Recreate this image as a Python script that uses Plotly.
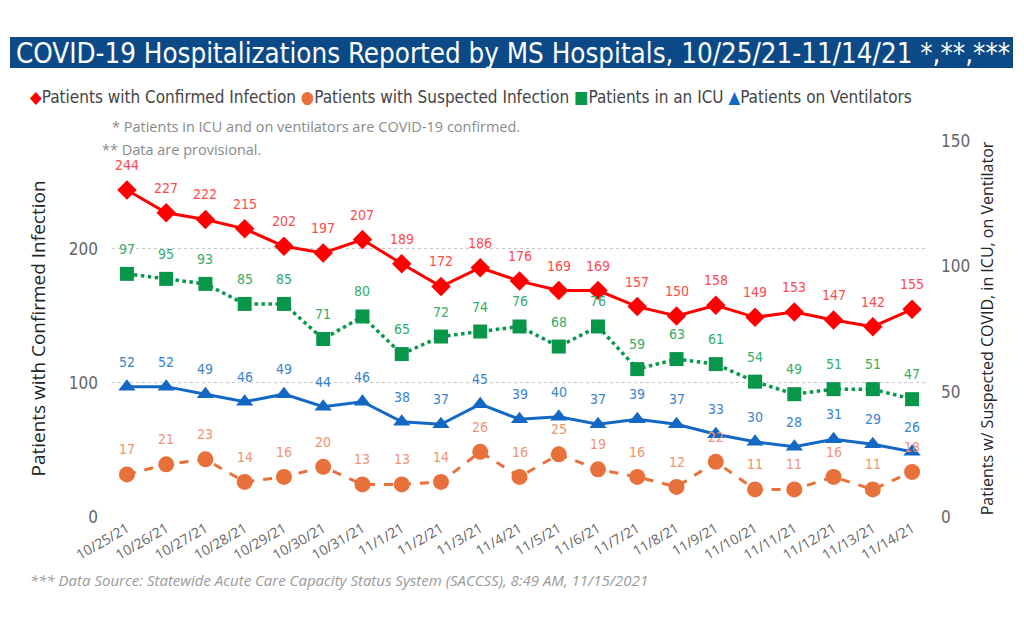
import plotly.graph_objects as go

dates = ["10/25/21", "10/26/21", "10/27/21", "10/28/21", "10/29/21", "10/30/21", "10/31/21",
         "11/1/21", "11/2/21", "11/3/21", "11/4/21", "11/5/21", "11/6/21", "11/7/21",
         "11/8/21", "11/9/21", "11/10/21", "11/11/21", "11/12/21", "11/13/21", "11/14/21"]
confirmed = [244, 227, 222, 215, 202, 197, 207, 189, 172, 186, 176, 169, 169, 157, 150, 158, 149, 153, 147, 142, 155]
suspected = [17, 21, 23, 14, 16, 20, 13, 13, 14, 26, 16, 25, 19, 16, 12, 22, 11, 11, 16, 11, 18]
icu = [97, 95, 93, 85, 85, 71, 80, 65, 72, 74, 76, 68, 76, 59, 63, 61, 54, 49, 51, 51, 47]
vent = [52, 52, 49, 46, 49, 44, 46, 38, 37, 45, 39, 40, 37, 39, 37, 33, 30, 28, 31, 29, 26]

left_ticks = [0, 100, 200]
right_ticks = [0, 50, 100, 150]

DIN = "Liberation Sans Narrow, DejaVu Sans Condensed, Roboto, sans-serif"
SEGOE = "Open Sans, Noto Sans, sans-serif"

RED, RED_L = "#FF0000", "#FF4A4A"
ORG, ORG_L = "#E8703A", "#EE9472"
GRN, GRN_L = "#08964A", "#34AD68"
BLU, BLU_L = "#1368C4", "#3A82CF"

fig = go.Figure()

fig.add_trace(go.Scatter(x=dates, y=suspected, yaxis="y2", mode="lines+markers", name="Patients with Suspected Infection",
                         line=dict(color=ORG, width=3, dash="dash"),
                         marker=dict(symbol="circle", size=16, color=ORG), showlegend=False, cliponaxis=False))
fig.add_trace(go.Scatter(x=dates, y=vent, yaxis="y2", mode="lines+markers", name="Patients on Ventilators",
                         line=dict(color=BLU, width=3),
                         marker=dict(symbol="triangle-up", size=15, color=BLU), showlegend=False, cliponaxis=False))
fig.add_trace(go.Scatter(x=dates, y=icu, yaxis="y2", mode="lines+markers", name="Patients in an ICU",
                         line=dict(color=GRN, width=3.5, dash="dot"),
                         marker=dict(symbol="square", size=14, color=GRN), showlegend=False, cliponaxis=False))
fig.add_trace(go.Scatter(x=dates, y=confirmed, yaxis="y", mode="lines+markers", name="Patients with Confirmed Infection",
                         line=dict(color=RED, width=3),
                         marker=dict(symbol="diamond", size=15, color=RED), showlegend=False, cliponaxis=False))

annotations = []
for series, yref, col in [(suspected, "y2", ORG_L), (vent, "y2", BLU_L), (icu, "y2", GRN_L), (confirmed, "y", RED_L)]:
    for d, v in zip(dates, series):
        annotations.append(dict(x=d, y=v, xref="x", yref=yref, text=str(v), showarrow=False,
                                yshift=25, font=dict(family=DIN, size=14, color=col)))

legend_text = ("<span style='color:%s'>◆</span>Patients with Confirmed Infection "
               "<span style='color:%s'>●</span>Patients with Suspected Infection "
               "<span style='color:%s'>■</span>Patients in an ICU "
               "<span style='color:%s'>▲</span>Patients on Ventilators") % (RED, ORG, GRN, BLU)
annotations.append(dict(xref="paper", yref="paper", x=-0.1031, y=1.114, xanchor="left", yanchor="middle",
                        text=legend_text, showarrow=False, font=dict(family=DIN, size=17, color="#444444")))
annotations.append(dict(xref="paper", yref="paper", x=-0.0025, y=1.0345, xanchor="left", yanchor="middle",
                        text="* Patients in ICU and on ventilators are COVID-19 confirmed.", showarrow=False,
                        font=dict(family=SEGOE, size=14.5, color="#8a8a8a")))
annotations.append(dict(xref="paper", yref="paper", x=-0.0147, y=(517 - 149) / 377, xanchor="left", yanchor="middle",
                        text="** Data are provisional.", showarrow=False,
                        font=dict(family=SEGOE, size=14.5, color="#8a8a8a")))
annotations.append(dict(xref="paper", yref="paper", x=-0.1031, y=-0.167, xanchor="left", yanchor="middle",
                        text="<i>*** Data Source: Statewide Acute Care Capacity Status System (SACCSS), 8:49 AM, 11/15/2021</i>",
                        showarrow=False, font=dict(family=SEGOE, size=15, color="#9a9a9a")))

fig.update_layout(
    width=1024, height=642,
    paper_bgcolor="white", plot_bgcolor="white",
    margin=dict(l=112, r=97, t=140, b=125),
    title=dict(text="COVID-19 Hospitalizations Reported by MS Hospitals, 10/25/21-11/14/21 *,**,***",
               x=16 / 1024, xanchor="left", y=1 - 53 / 642, yanchor="middle",
               font=dict(family=DIN, size=27.5, color="white")),
    shapes=[dict(type="rect", xref="paper", yref="paper", x0=(10 - 112) / 815, x1=(1013 - 112) / 815,
                 y0=(517 - 68) / 377, y1=(517 - 37) / 377, fillcolor="#0C4A87", line=dict(width=0), layer="below")],
    xaxis=dict(type="category", range=[-0.38, 20.38], tickangle=-30, showgrid=False, showline=False, zeroline=False,
               tickfont=dict(family=SEGOE, size=14, color="#666666"), ticks=""),
    yaxis=dict(range=[0, 281.3], tickvals=left_ticks, showgrid=True, gridcolor="#c8c8c8", griddash="dot", gridwidth=1,
               zeroline=False, showline=False, tickfont=dict(family=DIN, size=17, color="#666666"),
               ticklabelstandoff=13,
               title=dict(text="Patients with Confirmed Infection", standoff=18,
                          font=dict(family=SEGOE, size=19, color="#252525"))),
    yaxis2=dict(range=[0, 150.4], tickvals=right_ticks, overlaying="y", side="right", showgrid=False, zeroline=False,
                showline=False, tickfont=dict(family=DIN, size=17, color="#666666"),
                ticklabelstandoff=13,
                title=dict(text="Patients w/ Suspected COVID, in ICU, on Ventilator", standoff=12,
                           font=dict(family=SEGOE, size=16, color="#252525"))),
    annotations=annotations,
    showlegend=False,
)

fig.write_html("out.html")
